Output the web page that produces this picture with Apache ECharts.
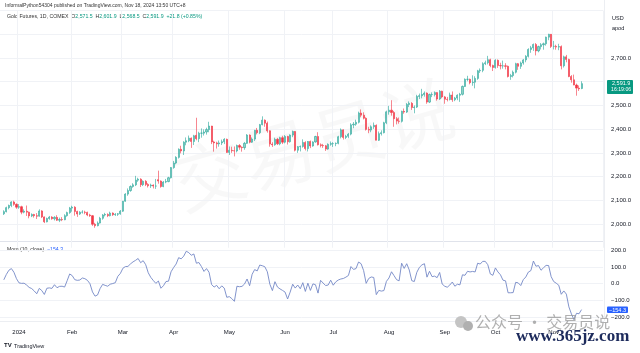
<!DOCTYPE html>
<html><head><meta charset="utf-8">
<script src="https://cdn.jsdelivr.net/npm/echarts/dist/echarts.min.js"></script>
<style>html,body{margin:0;padding:0;background:#fff}#c{width:640px;height:353px}</style>
</head><body><div id="c"></div>
<script>
// Trading calendar (COMEX daily bars)
const firstDay = '2023-12-21', lastDay = '2024-11-18';
const holidays = ['2023-12-25','2024-01-01','2024-01-15','2024-02-19','2024-03-29','2024-05-27','2024-06-19','2024-07-04','2024-09-02'];
const monthNames = ['2024','Feb','Mar','Apr','May','Jun','Jul','Aug','Sep','Oct','Nov','Dec'];

const opens = [2043,2052,2069,2078,2093,2083,
2071,2073,2050,2054,2050,2034,2040,2035,2033,2055,2030,2009,2023,2029,2022,2028,2016,2019,2018,2035,2048,
2067,2071,2053,2042,2050,2050,2049,2038,2035,1999,1993,2004,2024,2038,2040,2035,2046,2039,2041,2043,
2054,2096,2126,2141,2158,2165,2185,2189,2166,2180,2167,2161,2164,2160,2187,2181,2158,2177,2179,2195,
2238,2257,2281,2315,2308,2345,2351,2362,2348,2374,2360,2383,2383,2388,2398,2413,2346,2342,2338,2342,2347,2357,
2302,2311,2309,2308,2331,2324,2322,2340,2375,2345,2358,2395,2385,2419,2438,2425,2393,2337,2334,2357,2338,2364,
2345,2369,2347,2375,2390,2311,2326,2327,2344,2318,2348,2329,2346,2369,2334,2331,2330,2316,2336,
2339,2339,2340,2368,2397,2365,2370,2379,2418,2421,2429,2468,2459,2446,2399,2396,2410,2416,2353,2381,2385,2427,
2473,2480,2470,2444,2434,2433,2475,2472,2504,2509,2491,2493,2538,2541,2546,2552,2514,2546,2546,2554,2527,2560,
2536,2526,2525,2544,2524,2531,2543,2547,2580,2610,2610,2596,2598,2614,2646,2648,2676,2680,2693,2668,
2660,2690,2668,2667,2667,2665,2622,2626,2640,2676,2665,2679,2692,2707,2736,2743,2757,2730,2748,2756,2760,2788,2800,
2749,2749,2746,2748,2667,2705,2694,2622,2608,2586,2573,2571.5];

const highs = [2058,2073,2082,2096,2098,2087,
2084,2077,2062,2078,2052,2045,2043,2046,2062,2058,2032,2027,2034,2033,2033,2037,2027,2029,2041,2052,2072,
2077,2075,2056,2054,2058,2056,2052,2043,2038,2005,2011,2030,2042,2047,2045,2052,2049,2046,2046,2059,
2097,2130,2150,2163,2172,2203,2195,2193,2184,2185,2172,2170,2167,2190,2225,2184,2181,2190,2199,2240,
2266,2286,2319,2330,2349,2365,2373,2365,2376,2448,2389,2403,2399,2406,2431,2414,2351,2347,2352,2356,2362,2360,
2327,2326,2327,2335,2337,2327,2346,2379,2378,2365,2397,2405,2422,2454,2441,2432,2395,2345,2364,2363,2368,2372,
2375,2372,2378,2394,2392,2329,2331,2357,2349,2350,2352,2349,2372,2387,2340,2338,2333,2340,2348,
2345,2344,2372,2403,2399,2376,2384,2425,2430,2440,2474,2483,2471,2450,2410,2416,2428,2420,2390,2395,2431,2478,
2498,2522,2477,2451,2449,2478,2487,2510,2517,2514,2500,2545,2550,2570,2559,2555,2550,2555,2559,2556,2565,2562,
2540,2536,2554,2559,2536,2547,2553,2584,2614,2625,2613,2627,2623,2650,2656,2682,2689,2709,2697,2672,
2695,2694,2680,2689,2678,2668,2633,2647,2680,2679,2685,2696,2712,2741,2751,2761,2763,2752,2763,2765,2790,2802,2801,
2772,2756,2760,2753,2710,2713,2697,2628,2630,2592,2584,2601.9];

const lows = [2038,2049,2062,2071,2077,2064,
2064,2041,2045,2034,2024,2029,2027,2021,2031,2025,2004,2007,2018,2018,2015,2013,2008,2012,2016,2031,2043,
2052,2035,2030,2038,2044,2041,2033,2030,1992,1984,1990,2002,2018,2032,2029,2032,2034,2034,2034,2039,
2051,2094,2119,2136,2153,2160,2178,2156,2160,2160,2154,2152,2150,2148,2170,2153,2155,2172,2176,2192,
2233,2252,2276,2298,2291,2332,2345,2321,2333,2353,2345,2364,2373,2377,2387,2337,2305,2318,2326,2333,2337,2300,
2291,2300,2285,2302,2313,2305,2313,2338,2340,2342,2350,2378,2379,2416,2410,2385,2326,2325,2330,2333,2332,2337,
2340,2335,2343,2366,2306,2300,2306,2322,2310,2306,2320,2326,2343,2331,2323,2321,2308,2313,2330,
2325,2328,2336,2361,2356,2358,2362,2374,2404,2414,2424,2450,2441,2394,2383,2387,2401,2353,2350,2373,2382,2421,
2461,2457,2410,2420,2423,2428,2465,2468,2493,2481,2467,2489,2527,2530,2537,2507,2510,2535,2538,2520,2523,2530,
2507,2517,2521,2515,2518,2522,2515,2542,2578,2602,2589,2583,2572,2608,2637,2640,2670,2673,2661,2645,
2655,2658,2652,2655,2652,2618,2608,2618,2635,2650,2654,2672,2682,2702,2722,2730,2711,2724,2736,2735,2752,2775,2742,
2736,2735,2733,2652,2660,2682,2619,2596,2585,2541,2561,2568.5];

const closes = [2052,2069,2078,2093,2083,2071,
2073,2050,2054,2050,2034,2040,2035,2033,2055,2030,2009,2023,2029,2022,2028,2016,2019,2018,2035,2048,2067,
2071,2053,2042,2050,2050,2049,2038,2035,1999,1993,2004,2024,2038,2040,2035,2046,2039,2041,2043,2054,
2096,2126,2141,2158,2165,2185,2189,2166,2180,2167,2161,2164,2160,2160,2181,2158,2177,2179,2195,2238,
2257,2281,2315,2308,2345,2351,2362,2348,2372,2360,2383,2383,2388,2398,2413,2346,2342,2338,2342,2347,2357,2302,
2311,2309,2308,2331,2324,2322,2340,2375,2345,2358,2395,2385,2419,2438,2425,2393,2337,2334,2357,2338,2364,2345,
2369,2347,2375,2390,2311,2326,2327,2344,2318,2348,2329,2346,2369,2334,2331,2330,2316,2336,2339,
2339,2340,2368,2397,2365,2370,2379,2418,2421,2429,2468,2459,2446,2399,2396,2410,2416,2353,2381,2385,2427,2473,
2480,2470,2444,2434,2433,2475,2472,2504,2509,2491,2493,2538,2541,2546,2552,2514,2546,2546,2554,2527,2560,2536,
2526,2525,2544,2524,2531,2543,2547,2580,2610,2610,2596,2598,2614,2646,2648,2676,2680,2693,2668,2660,
2690,2668,2667,2667,2665,2622,2626,2640,2676,2665,2679,2692,2707,2736,2743,2757,2730,2748,2756,2760,2788,2800,2749,
2749,2746,2748,2667,2705,2694,2622,2608,2586,2573,2570,2591.9];

// Mom (10, close)
const momentum = [23,55,80,90,68,30,
5,2,3,-8,-22,-29,-43,-60,-28,-41,-64,-27,-25,-28,-6,-24,-16,-15,-20,18,58,
48,24,20,22,34,30,20,0,-49,-74,-67,-29,-4,-10,-15,-3,1,6,44,61,
92,102,103,118,130,139,150,125,137,113,65,38,19,2,16,-27,-12,13,15,71,
96,117,155,148,164,193,185,169,177,122,126,102,73,90,68,-5,-20,-10,-30,-13,-26,-81,
-77,-89,-105,-15,-18,-16,-2,28,-12,56,84,76,111,107,101,71,-3,-41,12,-20,-31,-40,
-50,-91,-50,-3,-26,-8,-30,6,-46,3,-40,-1,-6,-56,20,4,-11,-8,21,
-9,11,22,28,31,39,49,102,85,90,129,119,78,2,31,40,37,-65,-40,-44,-41,14,
34,71,48,24,17,122,91,119,82,18,13,68,97,112,119,39,74,42,45,36,67,-2,
-15,-21,-8,10,-15,-3,-7,53,50,74,70,73,70,122,117,133,133,113,58,50,
94,70,53,21,17,-54,-54,-53,8,5,-11,24,40,69,78,135,104,108,80,95,109,108,42,
13,3,-9,-63,-43,-62,-138,-180,-214,-176,-179,-154.3];

const priceTicksShown = [2000,2100,2200,2300,2400,2500,2700];
const momTicksShown = [-200,-100,0,100,200];

// ---- build calendar categories ----
function tradingDays(a, b) {
  const out = [];
  let t = Date.parse(a + 'T00:00:00Z');
  const end = Date.parse(b + 'T00:00:00Z');
  while (t <= end) {
    const d = new Date(t);
    const s = d.toISOString().slice(0, 10);
    const wd = d.getUTCDay();
    if (wd !== 0 && wd !== 6 && holidays.indexOf(s) < 0) out.push(s);
    t += 86400000;
  }
  return out;
}
const dates = tradingDays(firstDay, lastDay);
const LEAD = 1, TRAIL = 8;
const cats = [];
for (let i = 0; i < LEAD; i++) cats.push('pad' + i);
dates.forEach(d => cats.push(d));
for (let i = 0; i < TRAIL; i++) cats.push('padR' + i);

const labelMap = {};
for (let i = 1; i < dates.length; i++) {
  if (dates[i].slice(0, 7) !== dates[i - 1].slice(0, 7)) {
    const m = +dates[i].slice(5, 7) - 1;
    labelMap[i + LEAD] = monthNames[m];
  }
}

const candleData = dates.map((d, i) => [i + LEAD, opens[i], closes[i], lows[i], highs[i]]);
const momData = dates.map((d, i) => [i + LEAD, momentum[i]]);

const BAR = 2.534;
const plotW = cats.length * BAR;
// price pane: 2000 -> y224, 2700 -> y58
const pxPerUnit = 166 / 700;
const pTop = 224 - (2900 - 2000) * pxPerUnit;
const pH = 1000 * pxPerUnit;
// momentum pane: 0 -> y283.7
const mPx = 0.168;
const mTop = 283.7 - 300 * mPx;
const mH = 600 * mPx;

function fmt(v) {
  const s = Math.abs(v).toFixed(1).replace(/\B(?=(\d{3})+(?!\d))/g, ',');
  return (v < 0 ? '\u2212' : '') + s;
}

const FONT = 'Liberation Sans, Arial, sans-serif';
const TXT = '#131722';
const GRIDC = '#f0f2f6';
const UP = '#089981', DOWN = '#f23645';

const priceSplitColors = [];
for (let v = 1900; v <= 2900; v += 100) priceSplitColors.push(v >= 2000 ? GRIDC : 'rgba(0,0,0,0)');
const momSplitColors = [];
for (let v = -300; v <= 300; v += 100) momSplitColors.push(v >= -200 && v <= 200 ? GRIDC : 'rgba(0,0,0,0)');

const chart = echarts.init(document.getElementById('c'));
chart.setOption({
  animation: false,
  backgroundColor: '#ffffff',
  grid: [
    {left: 0, top: pTop, width: plotW, height: pH},
    {left: 0, top: mTop, width: plotW, height: mH}
  ],
  xAxis: [
    {type: 'category', gridIndex: 0, data: cats, boundaryGap: true,
     axisLine: {show: false}, axisTick: {show: false}, axisLabel: {show: false},
     splitLine: {show: true, interval: (i) => labelMap[i] !== undefined, lineStyle: {color: GRIDC, width: 1}}},
    {type: 'category', gridIndex: 1, data: cats, boundaryGap: true, offset: -13.5,
     axisLine: {show: false}, axisTick: {show: false},
     axisLabel: {show: true, interval: (i) => labelMap[i] !== undefined,
       formatter: (v, i) => labelMap[i] || '', color: TXT, fontSize: 6, fontFamily: FONT, margin: 9},
     splitLine: {show: false}}
  ],
  yAxis: [
    {type: 'value', gridIndex: 0, position: 'right', min: 1900, max: 2900, interval: 100,
     axisLine: {show: false}, axisTick: {show: false},
     axisLabel: {color: TXT, fontSize: 6, fontFamily: FONT, margin: 8,
       formatter: (v) => priceTicksShown.indexOf(v) >= 0 ? fmt(v) : ''},
     splitLine: {show: true, lineStyle: {color: priceSplitColors, width: 1}}},
    {type: 'value', gridIndex: 1, position: 'right', min: -300, max: 300, interval: 100,
     axisLine: {show: false}, axisTick: {show: false},
     axisLabel: {color: TXT, fontSize: 6, fontFamily: FONT, margin: 8,
       formatter: (v) => momTicksShown.indexOf(v) >= 0 ? fmt(v) : ''},
     splitLine: {show: true, lineStyle: {color: momSplitColors, width: 1}}}
  ],
  series: [
    {type: 'candlestick', xAxisIndex: 0, yAxisIndex: 0, data: candleData,
     encode: {x: 0, y: [1, 2, 3, 4]}, barWidth: 1.6,
     itemStyle: {color: 'rgba(8,153,129,0.45)', color0: DOWN, borderColor: '#26a69a', borderColor0: DOWN, borderWidth: 0.6}},
    {type: 'line', xAxisIndex: 1, yAxisIndex: 1, data: momData, encode: {x: 0, y: 1},
     showSymbol: false, lineStyle: {color: '#7488c6', width: 0.9}}
  ],
  graphic: [
    {type: 'text', z: -10, rotation: 0.28, x: 165, y: 150,
     style: {text: '交易员说', font: '72px "Noto Sans CJK SC"', fill: 'rgba(0,0,0,0.028)'}},
    {type: 'line', shape: {x1: 0, y1: 241.5, x2: 604, y2: 241.5}, style: {stroke: '#e0e3eb', lineWidth: 1}},
    {type: 'line', shape: {x1: 0, y1: 321.5, x2: 604, y2: 321.5}, style: {stroke: '#eceef2', lineWidth: 1}},
    {type: 'line', shape: {x1: 604.5, y1: 0, x2: 604.5, y2: 321}, style: {stroke: '#eceef2', lineWidth: 1}},
    {type: 'text', x: 5, y: 3, style: {text: 'InformalPython54304 published on TradingView.com, Nov 18, 2024 13:50 UTC+8',
      font: '5px ' + FONT, fill: '#333'}},
    {type: 'text', x: 7, y: 14.5, style: {
      text: '{d|Gold Futures, 1D, COMEX  O}{g|2,571.5}{d|  H}{g|2,601.9}{d|  L}{g|2,568.5}{d|  C}{g|2,591.9}{g|  +21.8 (+0.85%)}',
      rich: {d: {fontSize: 5.2, fontFamily: FONT, fill: '#333'}, g: {fontSize: 5.2, fontFamily: FONT, fill: UP}}}},
    {type: 'text', x: 612, y: 15.5, style: {text: 'USD', font: '5.5px ' + FONT, fill: TXT}},
    {type: 'text', x: 612, y: 25.5, style: {text: 'apod', font: '5.5px ' + FONT, fill: TXT}},
    {type: 'rect', z: 100, shape: {x: 607, y: 80, width: 26, height: 14, r: 1}, style: {fill: UP}},
    {type: 'text', z: 101, x: 612, y: 80.5, style: {text: '2,591.9', font: '5.5px ' + FONT, fill: '#fff'}},
    {type: 'text', z: 101, x: 611, y: 87, style: {text: '16:19:06', font: '5.2px ' + FONT, fill: '#fff'}},
    {type: 'text', x: 7, y: 247.5, style: {
      text: '{d|Mom (10, close)}{b|  \u2212154.3}',
      rich: {d: {fontSize: 5.2, fontFamily: FONT, fill: '#333'}, b: {fontSize: 5.2, fontFamily: FONT, fill: '#2962ff'}}}},
    {type: 'rect', z: 100, shape: {x: 607, y: 306.5, width: 21, height: 6.5, r: 1}, style: {fill: '#2962ff'}},
    {type: 'text', z: 101, x: 609, y: 307, style: {text: '\u2212154.3', font: '5.5px ' + FONT, fill: '#fff'}},
    {type: 'text', x: 4, y: 342.5, style: {text: 'TV', font: 'bold 6px ' + FONT, fill: TXT}},
    {type: 'text', x: 14, y: 343, style: {text: 'TradingView', font: '5.5px ' + FONT, fill: TXT}},
    {type: 'circle', z: 100, shape: {cx: 461, cy: 322, r: 6}, style: {fill: '#c4c4c4'}},
    {type: 'circle', z: 100, shape: {cx: 468, cy: 326, r: 5}, style: {fill: '#b0b0b0'}},
    {type: 'text', z: 100, x: 475, y: 314, style: {text: '公众号 · 交易员说', font: '16px "Noto Sans CJK SC"', fill: 'rgba(150,150,150,0.75)'}},
    {type: 'text', z: 100, x: 516, y: 328.5, style: {text: 'www.365jz.com', font: 'bold 17px "Liberation Serif", serif', fill: '#1d2b5c'}}
  ]
});
</script>
</body></html>
